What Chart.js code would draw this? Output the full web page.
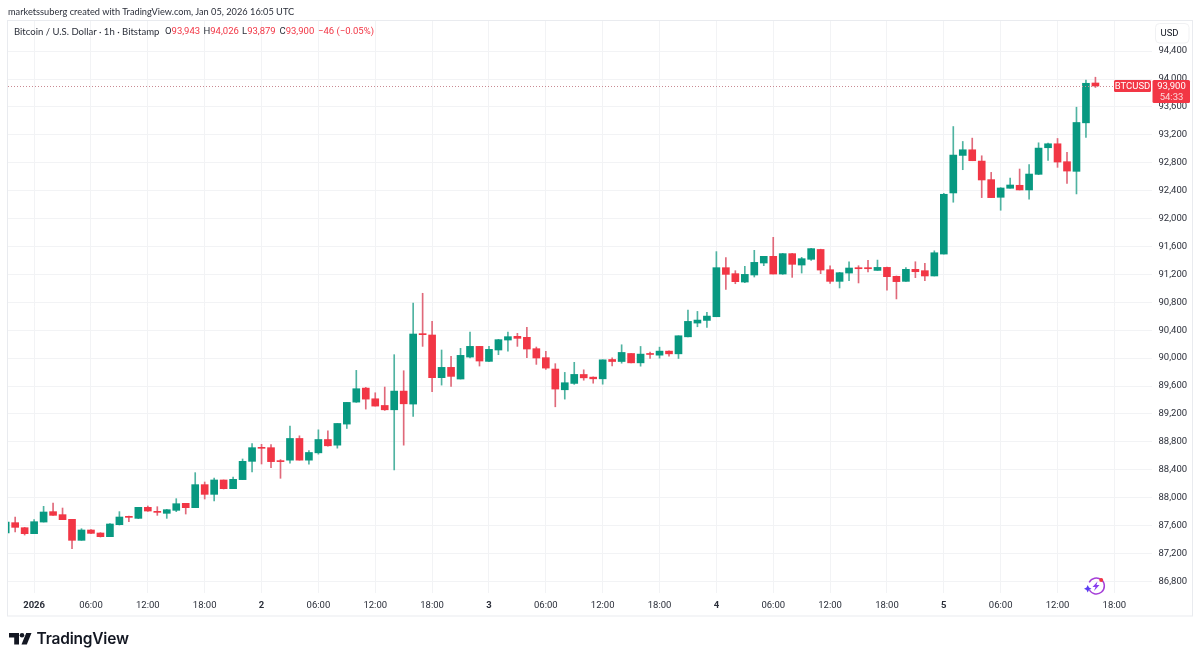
<!DOCTYPE html>
<html>
<head>
<meta charset="utf-8">
<script src="https://cdn.jsdelivr.net/npm/chart.js@4"></script>
<style>
html,body{margin:0;padding:0;background:#fff;width:1200px;height:662px;overflow:hidden}
#wrap{position:relative;width:1200px;height:662px;font-family:Lato,sans-serif;color:#131722}
canvas{position:absolute;left:0;top:0}
.t{position:absolute;white-space:pre;line-height:14px;transform-origin:left center}
.v{font-family:Roboto,sans-serif;font-size:9.5px;top:24px;color:#2a2e39}
.r{color:#f23645}
</style>
</head>
<body>
<div id="wrap">
<canvas id="c" width="1200" height="662"></canvas>
<div class="t" id="credit" style="left:8px;top:4px;font-size:10.4px;color:#2a2e39;transform:scaleX(.888)">marketssuberg created with TradingView.com, Jan 05, 2026 16:05 UTC</div>
<div class="t" id="legend" style="left:13.5px;top:24px;font-size:10.4px;color:#2a2e39;transform:scaleX(.918)">Bitcoin / U.S. Dollar · 1h · Bitstamp</div>
<div class="t v" style="left:165px">O<span class="r">93,943</span></div>
<div class="t v" style="left:203.500px">H<span class="r">94,026</span></div>
<div class="t v" style="left:242px">L<span class="r">93,879</span></div>
<div class="t v" style="left:279.500px">C<span class="r">93,900</span></div>
<div class="t v r" style="left:318px">−46 (−0.05%)</div>
<svg style="position:absolute;left:0;top:625px" width="40" height="30" viewBox="0 0 40 30">
  <path d="M9 8H19V19.500H14.200V12.400H9Z" fill="#131722"/>
  <circle cx="22" cy="10.200" r="2.300" fill="#131722"/>
  <path d="M26.200 8H31.500L26.800 19.500H21.500Z" fill="#131722"/>
</svg>
<div class="t" style="left:36.500px;top:629px;font-size:15.500px;line-height:20px;font-weight:600;font-family:Inter,sans-serif;color:#131722;letter-spacing:-0.2px">TradingView</div>
<svg style="position:absolute;left:1082px;top:574px" width="28" height="24" viewBox="0 0 28 24">
  <path d="M7.200 8.400A8 8 0 1 1 7.400 16" fill="none" stroke="#a53fd8" stroke-width="1.500"/>
  <path d="M15.500 7.500L10.500 13H13.500L12 17L17.500 11H14.500Z" fill="#8a3ff0"/>
  <circle cx="19.200" cy="6" r="2" fill="#f23645"/>
  <path d="M5.700 11L7 13.500L9.500 14.700L7 16L5.700 18.500L4.500 16L2 14.700L4.500 13.500Z" fill="#5a3df2"/>
</svg>
</div>
<script>
// Hourly candles, 31 Dec 2025 21:00 to 5 Jan 2026 16:00 (UTC)
const open = [87493,87641,87569,87483,87650,87799,87756,87689,87388,87536,87493,87440,87612,87732,87703,87861,87803,87775,87818,87918,87856,88186,88047,88253,88128,88258,88520,88721,88716,88530,88537,88848,88537,88642,88833,88752,89054,89369,89570,89417,89321,89259,89527,89341,90350,90331,89719,89867,89700,90015,90168,89953,90116,90259,90312,90298,90135,90006,89843,89546,89637,89765,89727,89703,89980,89951,90066,89932,90066,90042,90100,90061,90305,90502,90540,90593,91296,91210,91090,91191,91363,91459,91205,91497,91334,91416,91557,91267,91100,91219,91296,91296,91257,91300,91172,91100,91272,91253,91177,91491,92367,92905,92986,92824,92558,92305,92434,92477,92410,92634,93015,93072,92815,92677,93372,93943];
const high = [87680,87722,87574,87684,87875,87923,87851,87689,87555,87541,87498,87627,87799,87737,87861,87880,87870,87832,87985,87918,88358,88224,88281,88253,88296,88554,88774,88764,88759,88544,89025,88886,88675,88972,88958,89063,89365,89824,89580,89503,89585,90049,89819,90790,90929,90527,90116,90025,90140,90374,90168,90168,90269,90374,90355,90441,90159,90097,89920,89795,89939,89832,89731,89975,90004,90191,90066,90167,90085,90157,90104,90320,90688,90669,90655,91526,91439,91253,91315,91545,91459,91731,91502,91502,91444,91574,91561,91324,91229,91381,91324,91400,91405,91305,91177,91296,91381,91357,91538,92362,93319,93105,93153,92900,92662,92443,92581,92710,92772,93086,93081,93148,92948,93596,93986,94026];
const low = [87480,87507,87464,87483,87650,87746,87684,87268,87388,87483,87435,87440,87607,87655,87698,87803,87746,87703,87799,87765,87856,87980,87952,88124,88128,88258,88368,88482,88430,88277,88494,88537,88479,88623,88738,88709,88991,89365,89269,89312,89250,88397,88752,89164,90168,89518,89613,89594,89700,90001,89886,89948,90049,90101,90168,90006,89910,89838,89302,89412,89623,89683,89640,89626,89889,89927,89932,89884,89994,89999,90028,89994,90305,90449,90439,90593,90985,91066,91081,91162,91325,91205,91200,91157,91219,91401,91210,91072,91005,91110,91077,91234,91257,90972,90848,91100,91153,91110,91177,91491,92234,92700,92829,92300,92300,92119,92434,92410,92277,92629,92834,92734,92505,92353,93162,93879];
const close = [87650,87574,87483,87655,87794,87746,87684,87388,87536,87488,87440,87622,87722,87717,87861,87808,87789,87827,87913,87856,88186,88047,88253,88128,88262,88520,88716,88707,88516,88516,88848,88537,88647,88833,88743,89063,89365,89561,89412,89312,89259,89527,89345,90345,90336,89719,89867,89738,90039,90168,89958,90125,90264,90307,90283,90130,90001,89857,89556,89647,89766,89717,89703,89975,89951,90081,89932,90057,90052,90100,90061,90320,90526,90545,90602,91296,91200,91095,91200,91372,91459,91205,91497,91344,91425,91569,91262,91100,91224,91291,91281,91281,91300,91167,91096,91272,91238,91177,91510,92348,92910,92986,92829,92553,92300,92438,92481,92410,92638,93010,93072,92810,92681,93377,93939,93900];

// Axis ticks
const priceTicks = [86800,87200,87600,88000,88400,88800,89200,89600,90000,90400,90800,91200,91600,92000,92400,92800,93200,93600,94000,94400];
const timeTickIndex = [3,9,15,21,27,33,39,45,51,57,63,69,75,81,87,93,99,105,111,117];
const timeTickLabels = ["2026","06:00","12:00","18:00","2","06:00","12:00","18:00","3","06:00","12:00","18:00","4","06:00","12:00","18:00","5","06:00","12:00","18:00"];
const boldTicks = ["2026","2","3","4","5"];

const lastPrice = 93900, countdown = "54:33", symbol = "BTCUSD", currency = "USD";
const UP = "#089981", DOWN = "#f23645", UPW = "#4fb3a1", DOWNW = "#e0697a", GRID = "#f2f3f5";
const FONT = 'Roboto,sans-serif';

const idx = open.map((_, i) => i);
const isUp = i => close[i] >= open[i];
const wicks = idx.map(i => ({x: i, y: [low[i], high[i]]}));
const bodies = idx.map(i => ({x: i, y: [open[i], close[i]]}));

const overlay = {
  id: "overlay",
  afterDraw(chart) {
    const g = chart.ctx, ca = chart.chartArea, y = chart.scales.y;
    const py = y.getPixelForValue(lastPrice);
    g.save();
    // pane outer frame
    g.strokeStyle = "#e9ebef"; g.lineWidth = 1;
    g.strokeRect(7.5, 20.5, 1185, 595.5);
    // last price dotted line
    g.strokeStyle = "#c98a92"; g.setLineDash([1, 2]);
    g.beginPath(); g.moveTo(ca.left, Math.round(py) + .5); g.lineTo(1114, Math.round(py) + .5); g.stroke();
    g.setLineDash([]);
    // labels
    const top = Math.round(py) - 6;
    g.fillStyle = DOWN;
    g.beginPath(); g.roundRect(1114, top, 37, 12, 1.5); g.fill();
    g.beginPath(); g.roundRect(1152.5, top, 37.5, 23, 1.5); g.fill();
    g.textBaseline = "middle"; g.textAlign = "center"; g.fillStyle = "#fff";
    g.font = "9.5px " + FONT;
    g.fillText(symbol, 1132.5, top + 6.5);
    g.fillText(lastPrice.toLocaleString("en-US"), 1171.5, top + 6.5);
    g.fillStyle = "rgba(255,255,255,.8)";
    g.fillText(countdown, 1171.5, top + 17.5);
    // currency button
    g.fillStyle = "#fff"; g.strokeStyle = "#f0f1f3";
    g.beginPath(); g.roundRect(1155.5, 23.5, 33.5, 19.5, 4); g.fill(); g.stroke();
    g.fillStyle = "#131722";
    g.fillText(currency, 1169.5, 33.5);
    g.restore();
  }
};

new Chart(document.getElementById("c"), {
  type: "bar",
  data: {
    datasets: [
      {label: "wick", data: wicks, barThickness: 1, order: 2, grouped: false,
       backgroundColor: ctx => isUp(ctx.dataIndex) ? UPW : DOWNW},
      {label: "body", data: bodies, barThickness: 7, minBarLength: 1, order: 1, grouped: false,
       backgroundColor: ctx => isUp(ctx.dataIndex) ? UP : DOWN}
    ]
  },
  plugins: [overlay],
  options: {
    responsive: false, animation: false, events: [],
    layout: {padding: {left: 8, top: 20, right: 8, bottom: 46}},
    plugins: {legend: {display: false}, tooltip: {enabled: false}},
    datasets: {bar: {grouped: false}},
    scales: {
      x: {
        type: "linear", offset: false, min: 0.244, max: 120.97,
        grid: {offset: false, color: GRID, drawTicks: false},
        border: {display: false},
        afterBuildTicks(s) { s.ticks = timeTickIndex.map(v => ({value: v})); },
        afterFit(s) { s.height = 23; },
        ticks: {
          autoSkip: false, maxRotation: 0, padding: 7, color: "#2a2e39",
          font: ctx => ({family: FONT, size: 9.5, weight: ctx.tick && boldTicks.includes(timeTickLabels[timeTickIndex.indexOf(ctx.tick.value)]) ? "700" : "400"}),
          callback: v => timeTickLabels[timeTickIndex.indexOf(v)]
        }
      },
      y: {
        type: "linear", position: "right", min: 86633, max: 94846,
        grid: {color: GRID, drawTicks: false},
        border: {display: false},
        afterBuildTicks(s) { s.ticks = priceTicks.map(v => ({value: v})); },
        afterFit(s) { s.width = 40; },
        ticks: {
          padding: 6.5, color: "#2a2e39", font: {family: FONT, size: 9.5},
          callback: v => v.toLocaleString("en-US")
        }
      }
    }
  }
});
</script>
</body>
</html>
